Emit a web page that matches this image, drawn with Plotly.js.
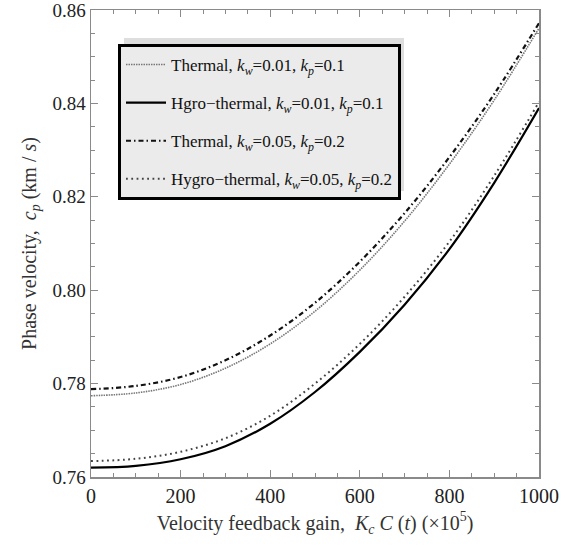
<!DOCTYPE html>
<html>
<head>
<meta charset="utf-8">
<script src="https://cdn.plot.ly/plotly-3.0.1.min.js"></script>
<style>html,body{margin:0;padding:0;background:#fff;}#chart{width:576px;height:549px;}</style>
</head>
<body>
<div id="chart"></div>
<script>
// Data
const gain = [0, 100, 200, 300, 400, 500, 600, 700, 800, 900, 1000];
const thermalKw001 = [0.7774, 0.7780, 0.7798, 0.7833, 0.7885, 0.7955, 0.8043, 0.8148, 0.8270, 0.8407, 0.8561];
const hygroKw001   = [0.7620, 0.7624, 0.7638, 0.7666, 0.7714, 0.7782, 0.7868, 0.7969, 0.8088, 0.8230, 0.8390];
const thermalKw005 = [0.7788, 0.7795, 0.7814, 0.7850, 0.7903, 0.7973, 0.8061, 0.8165, 0.8285, 0.8420, 0.8572];
const hygroKw005   = [0.7634, 0.7639, 0.7654, 0.7683, 0.7731, 0.7800, 0.7885, 0.7986, 0.8104, 0.8245, 0.8403];
const seriesNames = [
  'Thermal, <i>k<sub>w</sub></i>=0.01, <i>k<sub>p</sub></i>=0.1',
  'Hgro\u2212thermal, <i>k<sub>w</sub></i>=0.01, <i>k<sub>p</sub></i>=0.1',
  'Thermal, <i>k<sub>w</sub></i>=0.05, <i>k<sub>p</sub></i>=0.2',
  'Hygro\u2212thermal, <i>k<sub>w</sub></i>=0.05, <i>k<sub>p</sub></i>=0.2'
];
const xTickVals = [0, 200, 400, 600, 800, 1000];
const yTickVals = [0.76, 0.78, 0.80, 0.82, 0.84, 0.86];

const serif = 'Liberation Serif, Times New Roman, serif';
const styles = [
  {color: '#777777', width: 1.6, dash: '1.5px,1px'},
  {color: '#000000', width: 2.2, dash: 'solid'},
  {color: '#111111', width: 2.2, dash: '5px,3px,1.5px,3px'},
  {color: '#444444', width: 2.0, dash: '1.8px,3.5px'}
];
const ys = [thermalKw001, hygroKw001, thermalKw005, hygroKw005];
const traces = ys.map((y, i) => ({
  x: gain, y: y, type: 'scatter', mode: 'lines',
  name: seriesNames[i], legendgroup: 'g' + i,
  line: Object.assign({shape: 'spline', smoothing: 1}, styles[i])
}));

const px2x = p => (p - 91) / 448;
const px2y = p => (477 - p) / 467;

const layout = {
  width: 576, height: 549,
  margin: {l: 91, r: 37, t: 10, b: 72},
  paper_bgcolor: '#ffffff', plot_bgcolor: '#ffffff',
  font: {family: serif, color: '#222222'},
  showlegend: true,
  legend: {
    x: px2x(118), y: px2y(44), xanchor: 'left', yanchor: 'top',
    bgcolor: '#ebebeb', bordercolor: '#000000', borderwidth: 3,
    font: {family: serif, size: 17, color: '#111111'},
    traceorder: 'grouped', tracegroupgap: 13, itemwidth: 40
  },
  xaxis: {
    range: [0, 1000], tickvals: xTickVals, ticktext: xTickVals.map(String),
    showgrid: false, zeroline: false,
    showline: true, linecolor: '#8a8a8a', linewidth: 1.5, mirror: 'allticks',
    ticks: 'inside', ticklen: 7, tickcolor: '#8a8a8a', tickwidth: 1,
    minor: {dtick: 50, ticks: 'inside', ticklen: 4, tickcolor: '#8a8a8a', showgrid: false},
    tickfont: {family: serif, size: 20, color: '#222222'},
    ticklabeloverflow: 'allow',
    title: {text: 'Velocity feedback gain,  <i>K<sub>c</sub> C</i> (<i>t</i>) (\u00d710<sup>5</sup>)',
            font: {family: serif, size: 20, color: '#333333'}, standoff: 10}
  },
  yaxis: {
    range: [0.76, 0.86], tickvals: yTickVals, ticktext: yTickVals.map(v => v.toFixed(2)),
    showgrid: false, zeroline: false,
    showline: true, linecolor: '#8a8a8a', linewidth: 1.5, mirror: 'allticks',
    ticks: 'inside', ticklen: 7, tickcolor: '#8a8a8a', tickwidth: 1,
    minor: {dtick: 0.005, ticks: 'inside', ticklen: 4, tickcolor: '#8a8a8a', showgrid: false},
    tickfont: {family: serif, size: 19, color: '#222222'},
    ticklabeloverflow: 'allow',
    title: {text: 'Phase velocity,  <i>c<sub>p</sub></i> (km / <i>s</i>)',
            font: {family: serif, size: 20, color: '#333333'}, standoff: 10}
  },
  shapes: [{
    type: 'rect', xref: 'paper', yref: 'paper', layer: 'above',
    x0: px2x(124), x1: px2x(404), y0: px2y(191), y1: px2y(38),
    fillcolor: 'rgba(0,0,0,0.13)', line: {width: 0}
  }]
};

Plotly.newPlot('chart', traces, layout, {displayModeBar: false, staticPlot: true});
</script>
</body>
</html>
